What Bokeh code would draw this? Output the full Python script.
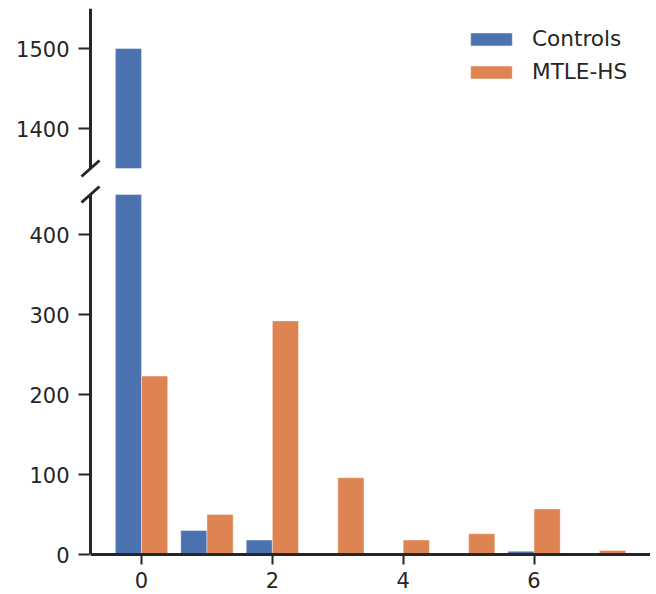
from bokeh.plotting import figure
from bokeh.models import Range1d, FixedTicker, Legend, LegendItem
from bokeh.layouts import column
from bokeh.embed import file_html
from bokeh.resources import INLINE

# ---- data ----
categories = [0, 1, 2, 3, 4, 5, 6, 7]
controls = [1500, 30, 18, 0, 0, 0, 4, 0]
mtle_hs = [223, 50, 292, 96, 18, 26, 57, 5]
series_names = ["Controls", "MTLE-HS"]
series_colors = ["#4C72B0", "#DD8452"]
top_ticks = [1400, 1500]
bottom_ticks = [0, 100, 200, 300, 400]
x_ticks = [0, 2, 4, 6]

# axis limits of the two halves of the broken axis
TOP_LO, TOP_HI = 1350, 1550
BOT_LO, BOT_HI = 0, 450

TEXT = "#262626"
FONT = "DejaVu Sans"
FS = "21px"
BAR_W = 0.4
OFF = 0.2

PX_X = 65.4      # px per x unit
PX_Y = 0.8       # px per y unit
EXT = 11         # px of frame beyond the spines (room for break marks)
X_SPINE = -0.78
X_END = 7.78

xr = Range1d(X_SPINE - EXT / PX_X, X_END)
x_c = [c - OFF for c in categories]
x_m = [c + OFF for c in categories]


def base_style(p):
    p.outline_line_color = None
    p.xgrid.visible = False
    p.ygrid.visible = False
    p.background_fill_color = "white"
    p.border_fill_color = "white"
    for ax in p.yaxis:
        ax.axis_line_color = None
        ax.major_tick_line_width = 2
        ax.major_tick_line_color = TEXT
        ax.major_tick_out = 1
        ax.major_tick_in = EXT - 1
        ax.minor_tick_line_color = None
        ax.major_label_text_font = FONT
        ax.major_label_text_font_size = FS
        ax.major_label_text_color = TEXT
        ax.major_label_standoff = 9


def bar_kw(color):
    return dict(width=BAR_W, fill_color=color, line_color="white", line_alpha=0.4, line_width=1)


# ---- top panel (upper part of the broken axis) ----
top = figure(width=650, height=179, x_range=xr,
             y_range=Range1d(TOP_LO - EXT / PX_Y, TOP_HI),
             output_backend="svg", toolbar_location=None, x_axis_location=None,
             min_border_left=79, min_border_right=0, min_border_top=8, min_border_bottom=0)
base_style(top)
top.yaxis.ticker = FixedTicker(ticks=top_ticks)

t1 = top.vbar(x=x_c, top=[max(v, TOP_LO) for v in controls], bottom=TOP_LO, **bar_kw(series_colors[0]))
t2 = top.vbar(x=x_m, top=[max(v, TOP_LO) for v in mtle_hs], bottom=TOP_LO, **bar_kw(series_colors[1]))
# left spine of the upper half
top.segment(x0=[X_SPINE], y0=[TOP_LO], x1=[X_SPINE], y1=[TOP_HI], line_width=3, line_color=TEXT)

legend = Legend(items=[LegendItem(label=series_names[0], renderers=[t1]),
                       LegendItem(label=series_names[1], renderers=[t2])],
                location="top_right", border_line_color=None, background_fill_alpha=0,
                glyph_width=52, glyph_height=16, label_standoff=15, spacing=8,
                padding=9, margin=18, label_width=100,
                label_text_font=FONT, label_text_font_size="21.6px", label_text_color=TEXT)
top.add_layout(legend)

# ---- bottom panel ----
bottom = figure(width=650, height=413, x_range=xr,
                y_range=Range1d(BOT_LO, BOT_HI + EXT / PX_Y),
                output_backend="svg", toolbar_location=None,
                min_border_left=79, min_border_right=0, min_border_top=4, min_border_bottom=38)
base_style(bottom)
bottom.yaxis.ticker = FixedTicker(ticks=bottom_ticks)
bottom.xaxis.ticker = FixedTicker(ticks=x_ticks)
bottom.xaxis.bounds = (X_SPINE, X_END)
ax = bottom.xaxis[0]
ax.axis_line_width = 3
ax.axis_line_color = TEXT
ax.major_tick_line_width = 2
ax.major_tick_line_color = TEXT
ax.major_tick_out = 10
ax.major_tick_in = 0
ax.minor_tick_line_color = None
ax.major_label_text_font = FONT
ax.major_label_text_font_size = FS
ax.major_label_text_color = TEXT
ax.major_label_standoff = 7

bottom.vbar(x=x_c, top=[min(v, BOT_HI) for v in controls], bottom=BOT_LO, **bar_kw(series_colors[0]))
bottom.vbar(x=x_m, top=[min(v, BOT_HI) for v in mtle_hs], bottom=BOT_LO, **bar_kw(series_colors[1]))
# left spine of the lower half
bottom.segment(x0=[X_SPINE], y0=[BOT_LO], x1=[X_SPINE], y1=[BOT_HI], line_width=3, line_color=TEXT)

# ---- break marks (diagonal slashes across the left spine) ----
dx = 9 / PX_X
dy = 8 / PX_Y
top.segment(x0=[X_SPINE - dx], y0=[TOP_LO - dy], x1=[X_SPINE + dx], y1=[TOP_LO + dy],
            line_width=3, line_color=TEXT)
bottom.segment(x0=[X_SPINE - dx], y0=[BOT_HI - dy], x1=[X_SPINE + dx], y1=[BOT_HI + dy],
               line_width=3, line_color=TEXT)

layout = column(top, bottom)
open("out.html", "w").write(file_html(layout, INLINE))
